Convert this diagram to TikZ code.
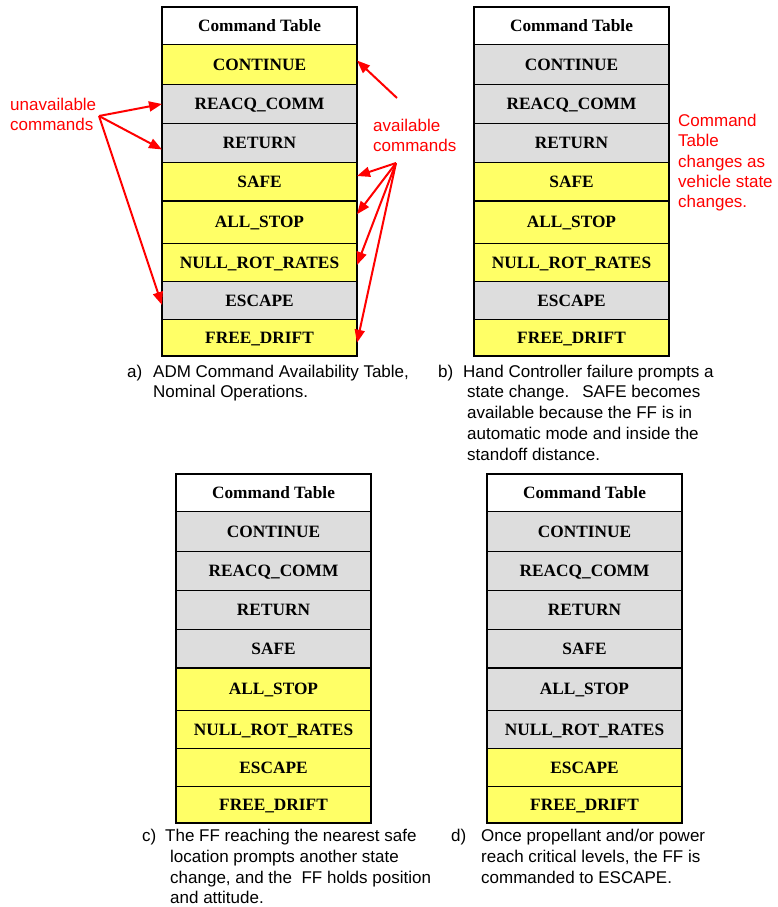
\documentclass[tikz,border=0pt]{standalone}
\usepackage{fontspec}
\setmainfont{Liberation Serif}
\setsansfont{Liberation Sans}
\usetikzlibrary{arrows.meta}

\definecolor{cmdon}{RGB}{255,255,102}
\definecolor{cmdoff}{RGB}{221,221,221}
\definecolor{notered}{RGB}{255,0,0}

% labels of the table rows (0 = header)
\newcommand\rowtext[1]{\ifcase#1 Command Table\or CONTINUE\or REACQ\_COMM\or RETURN\or SAFE\or ALL\_STOP\or NULL\_ROT\_RATES\or ESCAPE\or FREE\_DRIFT\fi}

% one command table: #1 name prefix, #2 left x, #3 top y, #4 fills of rows 1..8
\newcommand\cmdtable[4]{%
  \node[cell, fill=white, minimum height=37.5] (#1-0) at (#2,#3) {\rowtext{0}};
  \foreach \fc [count=\i] in {#4} {
    \pgfmathsetmacro\rtop{{0,37.5,77.5,116.5,155.5,194,236.5,274.5,312.5,349}[\i]}
    \pgfmathsetmacro\rbot{{0,37.5,77.5,116.5,155.5,194,236.5,274.5,312.5,349}[\i+1]}
    \node[cell, fill=\fc, minimum height=\rbot-\rtop] (#1-\i) at (#2,#3+\rtop) {\rowtext{\i}};
  }
  \draw[line width=2pt] (#1-0.north west) rectangle (#1-8.south east);
}

% multi-line texts are placed by the baseline of their last line
\tikzset{
  cell/.style={draw=black, line width=1.6pt, inner sep=0pt, outer sep=0pt,
    minimum width=195, anchor=north west, text height=11.4pt, text depth=0pt,
    font=\fontsize{17.3}{20}\selectfont\bfseries},
  note/.style={text=notered, inner sep=0pt, anchor=base west, align=left,
    font=\sffamily\fontsize{17}{20.3}\selectfont},
  caption/.style={inner sep=0pt, anchor=base west, align=left,
    font=\sffamily\fontsize{17}{20.8}\selectfont},
  callout/.style={draw=notered, line width=2pt,
    -{Triangle[length=13pt,width=10pt]}},
}

\begin{document}
\begin{tikzpicture}[x=1pt,y=-1pt]
\useasboundingbox (0,0) rectangle (777,907);

\cmdtable{ta}{162}{7}{cmdon,cmdoff,cmdoff,cmdon,cmdon,cmdon,cmdoff,cmdon}
\cmdtable{tb}{474}{7}{cmdoff,cmdoff,cmdoff,cmdon,cmdon,cmdon,cmdoff,cmdon}
\cmdtable{tc}{176}{474}{cmdoff,cmdoff,cmdoff,cmdoff,cmdon,cmdon,cmdon,cmdon}
\cmdtable{td}{487}{474}{cmdoff,cmdoff,cmdoff,cmdoff,cmdoff,cmdoff,cmdon,cmdon}

% red annotations
\node[note] (unavail) at (10,130.3) {unavailable\\commands};
\node[note] (avail) at (373,151.8) {available\\commands};
\node[note] (changes) at (678,207.7) {Command\\Table\\changes as\\vehicle state\\changes.};

\coordinate (unavsrc) at (99,116);
\coordinate (avsrc) at (396,163);
\coordinate (contsrc) at (397,98);

\draw[callout] (unavsrc) -- (ta-2.west);
\draw[callout] (unavsrc) -- ([yshift=-6.5pt]ta-3.west);
\draw[callout] (unavsrc) -- ([yshift=-4.5pt]ta-7.west);

\draw[callout] (contsrc) -- ([yshift=4pt]ta-1.east);
\draw[callout] (avsrc) -- ([yshift=5.75pt]ta-4.east);
\draw[callout] (avsrc) -- ([yshift=8pt]ta-5.east);
\draw[callout] (avsrc) -- ([yshift=-2.5pt]ta-6.east);
\draw[callout] (avsrc) -- ([yshift=-5pt]ta-8.east);

% captions
\node[caption] (capa-l) at (127,377) {a)};
\node[caption] (capa) at (153,397.8) {ADM Command Availability Table,\\Nominal Operations.};
\node[caption] (capb-l) at (438,377) {b)};
\node[caption] (capb) at (467,460.2) {\hspace*{-4pt}Hand Controller failure prompts a\\state change.\hspace{13pt}SAFE becomes\\available because the FF is in\\automatic mode and inside the\\standoff distance.};
\node[caption] (capc-l) at (142,841.5) {c)};
\node[caption] (capc) at (170,903.9) {\hspace*{-5pt}The FF reaching the nearest safe\\location prompts another state\\change, and the\ \ FF holds position\\and attitude.};
\node[caption] (capd-l) at (451,841.5) {d)};
\node[caption] (capd) at (481,883.1) {Once propellant and/or power\\reach critical levels, the FF is\\commanded to ESCAPE.};
\end{tikzpicture}
\end{document}
